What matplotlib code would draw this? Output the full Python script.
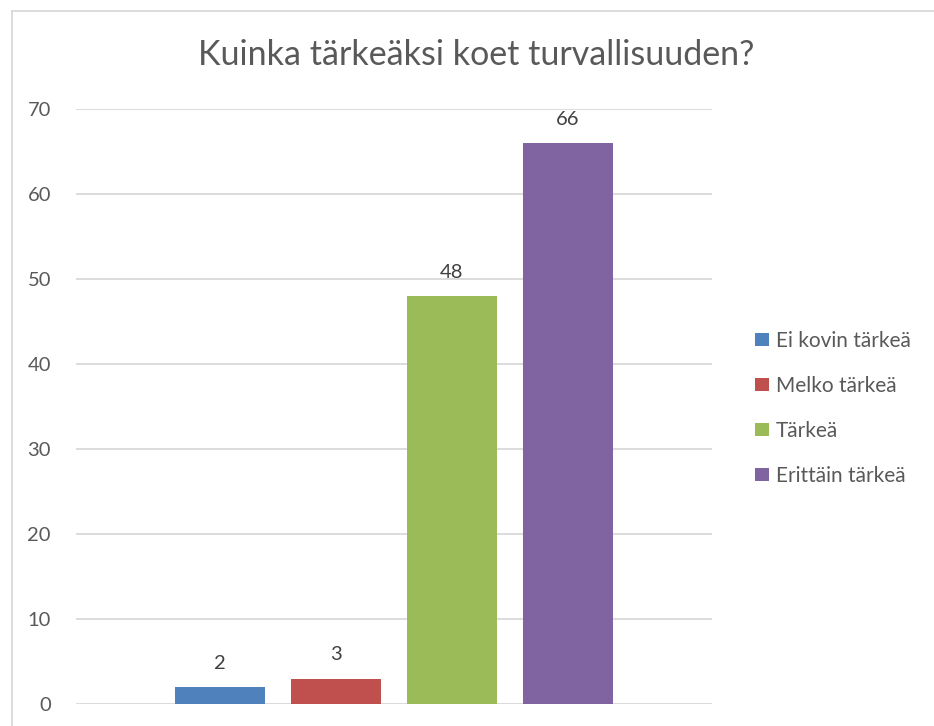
import matplotlib.pyplot as plt
from matplotlib.lines import Line2D

title = "Kuinka tärkeäksi koet turvallisuuden?"
labels = ["Ei kovin tärkeä", "Melko tärkeä", "Tärkeä", "Erittäin tärkeä"]
values = [2, 3, 48, 66]
colors = ["#4f81bd", "#c0504d", "#9bbb59", "#8064a2"]
yticks = [0, 10, 20, 30, 40, 50, 60, 70]

plt.rcParams['font.family'] = ['Lato', 'DejaVu Sans']

fig = plt.figure(figsize=(9.34, 7.26), dpi=100)
ax = fig.add_axes([76 / 934, 22 / 726, 636 / 934, 595 / 726])

step = 0.1824
width = 0.143
for i, (lab, v, c) in enumerate(zip(labels, values, colors)):
    x = (i - 1.5) * step
    ax.bar(x, v, width=width, color=c, label=lab, zorder=3)
    ax.text(x, v + 1.8, str(v), ha='center', va='bottom', fontsize=14.5, color='#404040')

ax.set_xlim(-0.5, 0.5)
ax.set_ylim(0, 70)
ax.set_yticks(yticks)
ax.set_xticks([])
ax.grid(axis='y', color='#d9d9d9', linewidth=1.3, zorder=0)
for s in ax.spines.values():
    s.set_visible(False)
ax.tick_params(axis='y', length=0, pad=18, labelsize=14.5, labelcolor='#595959')

fig.text(476 / 934, 1 - 55 / 726, title, ha='center', va='center', fontsize=24.5, color='#595959')

leg = ax.legend(loc='center left', bbox_to_anchor=(679 / 636, 0.497), frameon=False,
                borderpad=0, borderaxespad=0,
                fontsize=15, labelcolor='#595959', handlelength=0.65, handleheight=0.65,
                handletextpad=0.35, labelspacing=1.2)

# outer chart border (top and left visible)
fig.add_artist(Line2D([12 / 934, 1], [1 - 11 / 726, 1 - 11 / 726], color='#d9d9d9', lw=1.3))
fig.add_artist(Line2D([12 / 934, 12 / 934], [0, 1 - 11 / 726], color='#d9d9d9', lw=1.3))

fig.savefig('out.png', dpi=100)
